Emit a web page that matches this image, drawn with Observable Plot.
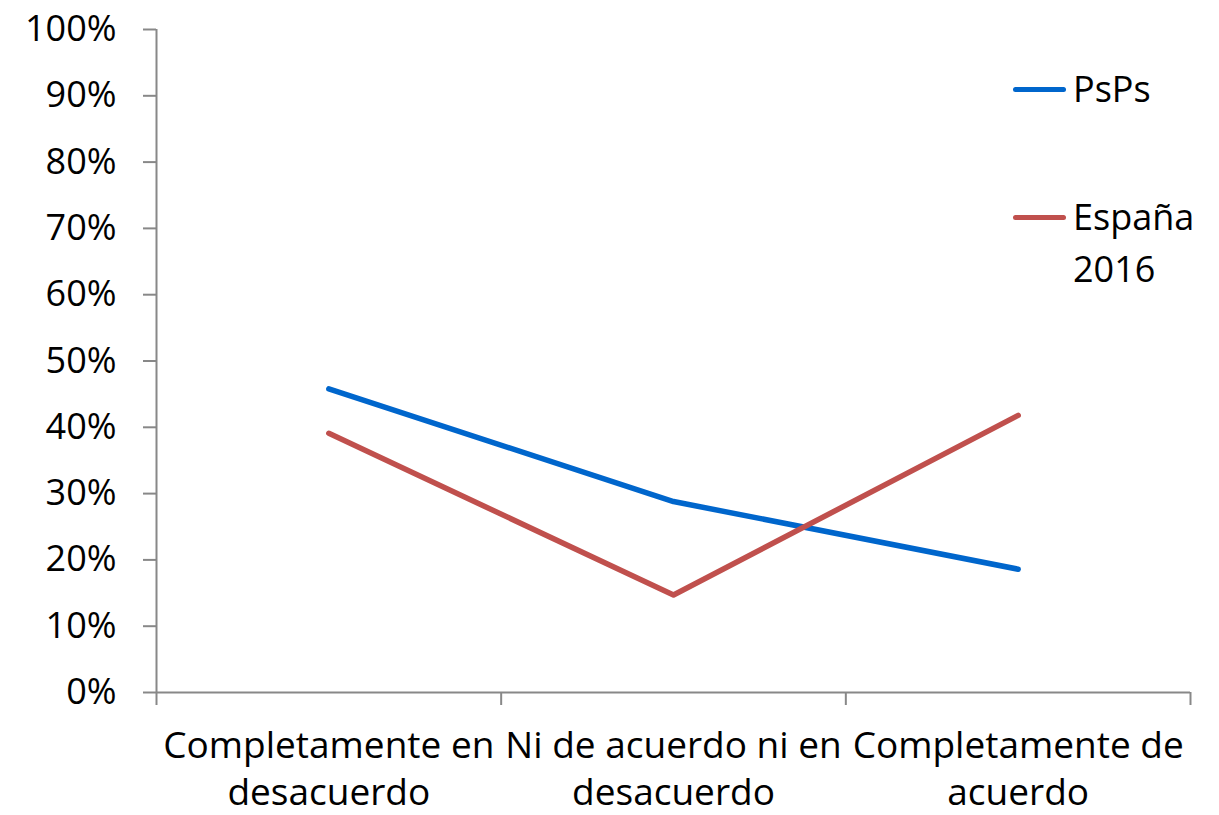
<!DOCTYPE html>
<html><head><meta charset="utf-8">
<script src="https://cdn.jsdelivr.net/npm/d3@7"></script>
<script src="https://cdn.jsdelivr.net/npm/@observablehq/plot@0.6"></script>
<style>
body{margin:0;background:#fff;font-family:"Open Sans",sans-serif;}
#wrap{position:relative;width:1219px;height:815px;}
.leg{position:absolute;left:1013px;font-size:36px;color:#000;display:flex;align-items:flex-start;line-height:52px;}
.leg .sw{width:53px;height:5px;border-radius:3px;margin-top:24px;margin-right:7px;}
</style></head>
<body><div id="wrap"></div>
<script>
const categories = ["Completamente en\ndesacuerdo", "Ni de acuerdo ni en\ndesacuerdo", "Completamente de\nacuerdo"];
const psps = [0.458, 0.288, 0.186];
const espana = [0.391, 0.147, 0.418];
const seriesNames = ["PsPs", "España\n2016"];
const seriesColors = ["#0066cc", "#c0504d"];
const yTicks = [0,0.1,0.2,0.3,0.4,0.5,0.6,0.7,0.8,0.9,1];

const rows = [];
categories.forEach((c,i)=>{
  rows.push({pos:i+0.5, v:psps[i], s:seriesNames[0]});
  rows.push({pos:i+0.5, v:espana[i], s:seriesNames[1]});
});
const catRows = categories.map((c,i)=>({pos:i+0.5, label:c}));

const chart = Plot.plot({
  width:1219, height:815,
  marginLeft:156, marginRight:29, marginTop:29, marginBottom:123,
  style:{fontFamily:"Open Sans", fontSize:"36px", color:"#000", background:"#fff"},
  x:{type:"linear", domain:[0,categories.length]},
  y:{type:"linear", domain:[0,1]},
  color:{domain:seriesNames, range:seriesColors},
  marks:[
    Plot.axisY({ticks:yTicks, tickSize:13, tickPadding:27, stroke:"#888", strokeWidth:2, strokeOpacity:1, tickFormat:d=>Math.round(d*100)+"%", fontSize:36, fill:"#000", anchor:"left", label:null}),
    Plot.axisX({ticks:d3.range(categories.length+1), tickSize:13, stroke:"#888", strokeWidth:2, strokeOpacity:1, tickFormat:()=>"", label:null, anchor:"bottom"}),
    Plot.ruleY([0], {stroke:"#888", strokeWidth:2}),
    Plot.ruleX([0], {stroke:"#888", strokeWidth:2}),
    Plot.text(catRows, {x:"pos", text:"label", frameAnchor:"bottom", dy:112, fontSize:37, lineHeight:1.25, fill:"#000", textAnchor:"middle", lineAnchor:"bottom"}),
    Plot.line(rows, {x:"pos", y:"v", z:"s", stroke:"s", strokeWidth:5.5, strokeLinecap:"round", strokeLinejoin:"round"})
  ]
});
const wrap = document.getElementById("wrap");
wrap.appendChild(chart);
const legTops = [63, 191];
seriesNames.forEach((n,i)=>{
  const d = document.createElement("div");
  d.className="leg"; d.style.top=legTops[i]+"px";
  const sw=document.createElement("div"); sw.className="sw"; sw.style.background=seriesColors[i];
  const t=document.createElement("div"); t.innerHTML=n.replace("\n","<br>");
  d.appendChild(sw); d.appendChild(t); wrap.appendChild(d);
});
</script></body></html>
